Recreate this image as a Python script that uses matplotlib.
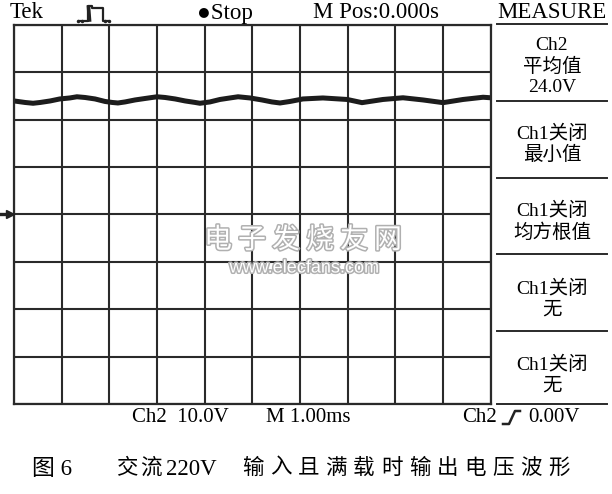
import matplotlib
matplotlib.use("Agg")
import matplotlib.pyplot as plt
import matplotlib.patheffects as pe
from matplotlib.lines import Line2D

plt.rcParams["font.family"] = ["Liberation Serif", "Noto Sans CJK SC", "DejaVu Sans"]

W, H = 612, 494

# ---- data (time in ms, Ch2 voltage in V) -----------------------------------
t_ms = [0.00, 0.23, 0.40, 0.55, 0.76, 0.96, 1.17, 1.32, 1.49, 1.70, 1.91, 2.06,
        2.18, 2.33, 2.54, 2.75, 3.00, 3.17, 3.38, 3.59, 3.80, 3.90, 4.11, 4.32,
        4.53, 4.70, 4.95, 5.20, 5.41, 5.58, 5.79, 6.06, 6.48, 6.99, 7.30, 7.74,
        8.16, 8.58, 9.00, 9.42, 9.84, 10.00]
v_ch2 = [23.97, 23.65, 23.48, 23.65, 23.97, 24.39, 24.60, 24.85, 24.70, 24.39, 23.86, 23.65,
         23.54, 23.76, 24.18, 24.49, 24.85, 24.70, 24.39, 23.97, 23.65, 23.48, 23.76, 24.28,
         24.60, 24.85, 24.60, 24.18, 23.76, 23.54, 23.86, 24.39, 24.60, 24.28, 23.61, 24.28,
         24.64, 24.18, 23.61, 24.28, 24.75, 24.64]

header = ["Tek", "●Stop", "M Pos:0.000s", "MEASURE"]
panel = [["Ch2", "平均值", "24.0V"],
         ["Ch1关闭", "最小值"],
         ["Ch1关闭", "均方根值"],
         ["Ch1关闭", "无"],
         ["Ch1关闭", "无"]]
footer = ["Ch2  10.0V", "M 1.00ms", "Ch2", "0.00V"]
caption_fig = "图 6"
caption_parts = ["交流", "220V", "输入且满载时输出电压波形"]


def px(x, y):
    return x / W, 1 - y / H


def fig_line(xs, ys, **kw):
    fig.add_artist(Line2D([x / W for x in xs], [1 - y / H for y in ys],
                          transform=fig.transFigure, **kw))


fig = plt.figure(figsize=(W / 100, H / 100), dpi=100)
fig.patch.set_facecolor("white")

# ---- scope graticule --------------------------------------------------------
ax = fig.add_axes([14 / W, 1 - 404 / H, 476.7 / W, 379 / H])
ax.plot(t_ms, v_ch2, color="#1c1c1c", lw=3.6, solid_joinstyle="miter")
ax.set_xlim(0, 10)
ax.set_ylim(-40, 40)
ax.set_xticks(range(0, 11))
ax.set_yticks(range(-40, 41, 10))
ax.grid(True, color="#2a2a2a", lw=1.5)
ax.tick_params(length=0, labelbottom=False, labelleft=False)
for s in ax.spines.values():
    s.set_color("#2a2a2a")
    s.set_linewidth(1.6)

# ground marker on the left
fig_line([0, 9], [214, 214], color="#222", lw=2.4)
fig_line([10], [214], marker=">", ms=6, color="#222", lw=0)

# ---- header ------------------------------------------------------------------
fs = 16.5
fig.text(*px(10, 13), header[0], fontsize=fs, va="center", ha="left")
fig.text(*px(197, 13), header[1], fontsize=fs, va="center", ha="left",
         family=["Liberation Serif", "DejaVu Sans"])
fig.text(*px(313, 13), header[2], fontsize=fs, va="center", ha="left")
fig.text(*px(552, 13), header[3], fontsize=fs, va="center", ha="center")

# pulse icon
fig_line([79, 88, 88, 92, 92, 103, 103, 108], [21, 21, 6, 6, 8, 8, 21, 21], color="#222", lw=1.6)
fig_line([88.5, 89.5], [7, 20], color="#222", lw=2.6)
fig_line([78, 82, 105, 109], [21, 21, 21, 21], color="#222", lw=0, marker=".", ms=3)

# ---- measure panel ----------------------------------------------------------
for y in [24, 101, 178, 254, 331, 404]:
    fig_line([497, 607], [y, y], color="#2a2a2a", lw=1.4)
centers = [[46, 67, 87], [134, 155], [211, 233], [289, 310], [365, 386]]
for lines, ys in zip(panel, centers):
    for txt, y in zip(lines, ys):
        fig.text(*px(552, y), txt, fontsize=14, ha="center", va="center")

# ---- footer -----------------------------------------------------------------
fs2 = 15
fig.text(*px(132, 417), footer[0], fontsize=fs2, ha="left", va="center")
fig.text(*px(266, 417), footer[1], fontsize=fs2, ha="left", va="center")
fig.text(*px(462, 417), footer[2], fontsize=fs2, ha="left", va="center")
fig.text(*px(528, 417), footer[3], fontsize=fs2, ha="left", va="center")
fig_line([503, 509, 515, 520], [424, 424, 411, 411], color="#222", lw=1.8)

# ---- watermark ----------------------------------------------------------------
shadow = [pe.withStroke(linewidth=2.2, foreground="#b0b0b0")]
fig.text(*px(303, 240), "电 子 发 烧 友 网", fontsize=20, ha="center", va="center",
         color="white", style="italic", family=["Noto Sans CJK SC"], path_effects=shadow)
fig.text(*px(304, 268), "www.elecfans.com", fontsize=13, ha="center", va="center",
         color="white", family=["Liberation Sans"], path_effects=shadow)

# ---- caption -----------------------------------------------------------------
cy = 469
fig.text(*px(32, cy), caption_fig, fontsize=16.5, ha="left", va="center")
x = 116
for ch in caption_parts[0]:
    fig.text(*px(x, cy), ch, fontsize=15.5, ha="left", va="center")
    x += 24
fig.text(*px(166, cy), caption_parts[1], fontsize=16.5, ha="left", va="center")
x = 242
for ch in caption_parts[2]:
    fig.text(*px(x, cy), ch, fontsize=15.5, ha="left", va="center")
    x += 27.8

fig.savefig("out.png", dpi=100, facecolor="white")
